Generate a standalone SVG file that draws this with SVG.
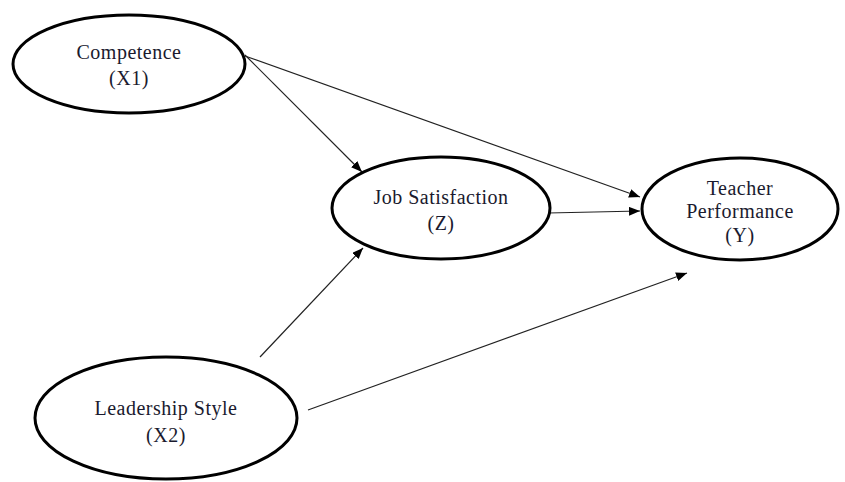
<svg xmlns="http://www.w3.org/2000/svg" width="845" height="482" viewBox="0 0 845 482">
<style>
.node{fill:#fff;stroke:#000;stroke-width:3}
.lbl{font-family:"Liberation Serif","Times New Roman",serif;font-size:20px;fill:#1a1a2e;text-anchor:middle;letter-spacing:0.5px}
.edge{stroke:#222;stroke-width:1.2;fill:none;marker-end:url(#ah)}
</style>
<defs>
<marker id="ah" viewBox="0 0 10 8" refX="10" refY="4" markerWidth="11" markerHeight="9" markerUnits="userSpaceOnUse" orient="auto">
<path d="M0,0 L10,4 L0,8 z" fill="#000"/>
</marker>
</defs>
<rect width="845" height="482" fill="#fff"/>
<g id="connectors">
<line class="edge" x1="245" y1="55" x2="362" y2="172"/>
<line class="edge" x1="245" y1="56" x2="640" y2="197"/>
<line class="edge" x1="548" y1="213" x2="640" y2="211"/>
<line class="edge" x1="260" y1="357" x2="363" y2="248"/>
<line class="edge" x1="308" y1="410" x2="687" y2="273"/>
</g>
<g id="competence">
<ellipse class="node" cx="129" cy="64" rx="116" ry="49"/>
<text class="lbl" x="129" y="59">Competence</text>
<text class="lbl" x="129" y="85">(X1)</text>
</g>
<g id="job-satisfaction">
<ellipse class="node" cx="441" cy="208" rx="109" ry="51"/>
<text class="lbl" x="441" y="204">Job Satisfaction</text>
<text class="lbl" x="441" y="230">(Z)</text>
</g>
<g id="teacher-performance">
<ellipse class="node" cx="740" cy="209" rx="98" ry="51"/>
<text class="lbl" x="740" y="195">Teacher</text>
<text class="lbl" x="740" y="218">Performance</text>
<text class="lbl" x="740" y="242">(Y)</text>
</g>
<g id="leadership-style">
<ellipse class="node" cx="166" cy="418" rx="131" ry="61"/>
<text class="lbl" x="166" y="415">Leadership Style</text>
<text class="lbl" x="166" y="442">(X2)</text>
</g>
</svg>
